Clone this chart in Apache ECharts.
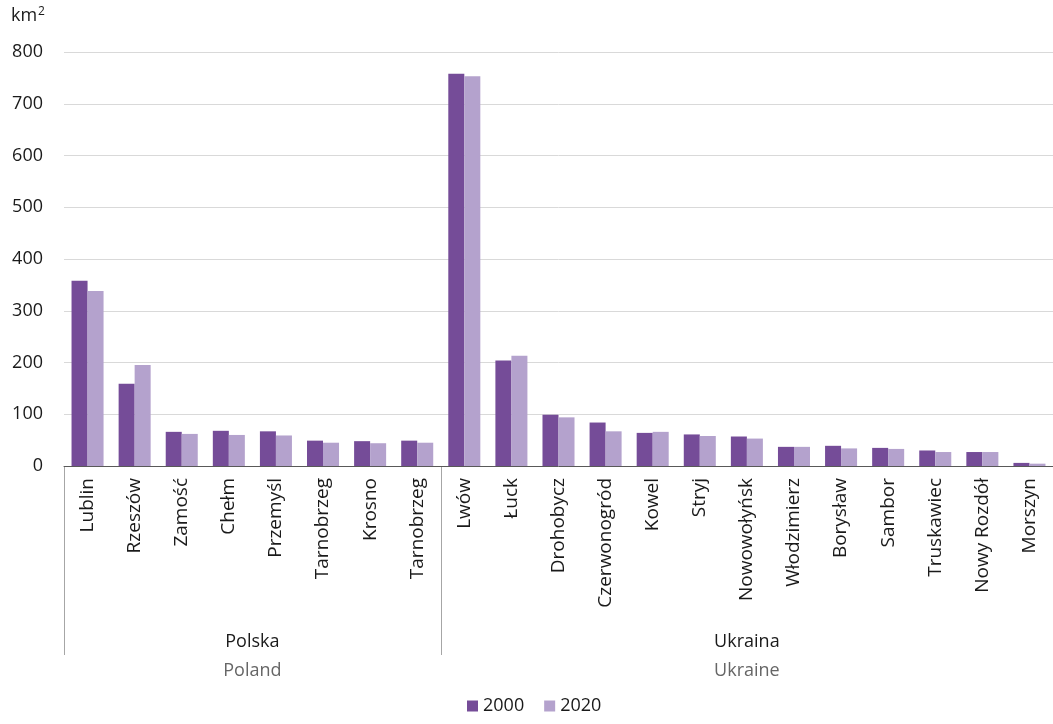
<!DOCTYPE html>
<html>
<head>
<meta charset="utf-8">
<script src="https://cdn.jsdelivr.net/npm/echarts@6/dist/echarts.min.js"></script>
<style>
html,body{margin:0;padding:0;background:#fff;}
#c{width:1053px;height:724px;}
</style>
</head>
<body>
<div id="c"></div>
<script>
const categories = ['Lublin','Rzeszów','Zamość','Chełm','Przemyśl','Tarnobrzeg','Krosno','Tarnobrzeg',
  'Lwów','Łuck','Drohobycz','Czerwonogród','Kowel','Stryj','Nowowołyńsk','Włodzimierz','Borysław','Sambor','Truskawiec','Nowy Rozdół','Morszyn'];
const values2000 = [358,159,66,68,67,49,48,49, 758,204,99,84,64,61,57,37,39,35,30,27,6];
const values2020 = [338,195,62,60,59,45,44,45, 753,213,94,67,66,58,53,37,34,33,27,27,4.5];
const seriesNames = ['2000','2020'];
const yTicks = [0,100,200,300,400,500,600,700,800];
const groups = [
  {pl:'Polska', en:'Poland', start:0, end:8},
  {pl:'Ukraina', en:'Ukraine', start:8, end:21}
];
const unitLabel = 'km';

const FONT = '"Open Sans", "Noto Sans", sans-serif';
const C1 = '#754c98', C2 = '#b4a2cd';

const chart = echarts.init(document.getElementById('c'), null, {renderer:'canvas'});
const option = {
  animation:false,
  backgroundColor:'#fff',
  textStyle:{fontFamily:FONT},
  grid:{left:64, top:52, bottom:258, width:993, containLabel:false},
  legend:{
    data:seriesNames, left:462, bottom:4, itemWidth:11, itemHeight:11, itemGap:20,
    icon:'rect',
    textStyle:{fontFamily:FONT, fontSize:18, color:'#1a1a1a', padding:[0,0,0,0]}
  },
  xAxis:{
    type:'category', data:categories,
    axisLine:{lineStyle:{color:'#595959', width:1}},
    axisTick:{show:false},
    axisLabel:{rotate:90, interval:0, margin:12, fontSize:19, color:'#1a1a1a', fontFamily:FONT},
    splitLine:{show:false}
  },
  yAxis:{
    type:'value', min:yTicks[0], max:yTicks[yTicks.length-1], interval:100,
    axisLine:{show:false}, axisTick:{show:false},
    axisLabel:{fontSize:18, color:'#1a1a1a', margin:21, fontFamily:FONT},
    splitLine:{lineStyle:{color:'#d9d9d9', width:1}}
  },
  series:[
    {name:seriesNames[0], type:'bar', data:values2000, itemStyle:{color:C1}, barGap:'0%', barCategoryGap:'32%'},
    {name:seriesNames[1], type:'bar', data:values2020, itemStyle:{color:C2}, barGap:'0%', barCategoryGap:'32%'}
  ]
};
chart.setOption(option);

function drawGroups(){
  const c0 = chart.convertToPixel({xAxisIndex:0}, 0);
  const c1 = chart.convertToPixel({xAxisIndex:0}, 1);
  const bw = c1 - c0;
  const boundary = i => c0 + (i - 0.5) * bw;
  const y0 = chart.convertToPixel({yAxisIndex:0}, 0);
  const elements = [];
  const bset = new Set();
  groups.forEach(g => { bset.add(g.start); bset.add(g.end); });
  bset.forEach(i => {
    const x = Math.round(boundary(i)) + 0.5;
    elements.push({type:'line', shape:{x1:x, y1:y0, x2:x, y2:y0+189}, style:{stroke:'#a6a6a6', lineWidth:1}, silent:true});
  });
  groups.forEach(g => {
    const cx = (boundary(g.start) + boundary(g.end)) / 2;
    elements.push({type:'text', x:cx, y:y0+176, style:{text:g.pl, fill:'#1a1a1a', font:'18px ' + FONT, align:'center', verticalAlign:'middle'}, silent:true});
    elements.push({type:'text', x:cx, y:y0+205, style:{text:g.en, fill:'#666666', font:'18px ' + FONT, align:'center', verticalAlign:'middle'}, silent:true});
  });
  elements.push({type:'text', x:11, y:16, style:{
    text:'{a|' + unitLabel + '}{s|2}', verticalAlign:'middle',
    rich:{a:{fontSize:18, fontFamily:FONT, fill:'#1a1a1a', color:'#1a1a1a'}, s:{fontSize:12, fontFamily:FONT, color:'#1a1a1a', fill:'#1a1a1a', verticalAlign:'top', padding:[0,0,9,1]}}
  }, silent:true});
  chart.setOption({graphic:{elements:elements}});
}
drawGroups();
</script>
</body>
</html>
